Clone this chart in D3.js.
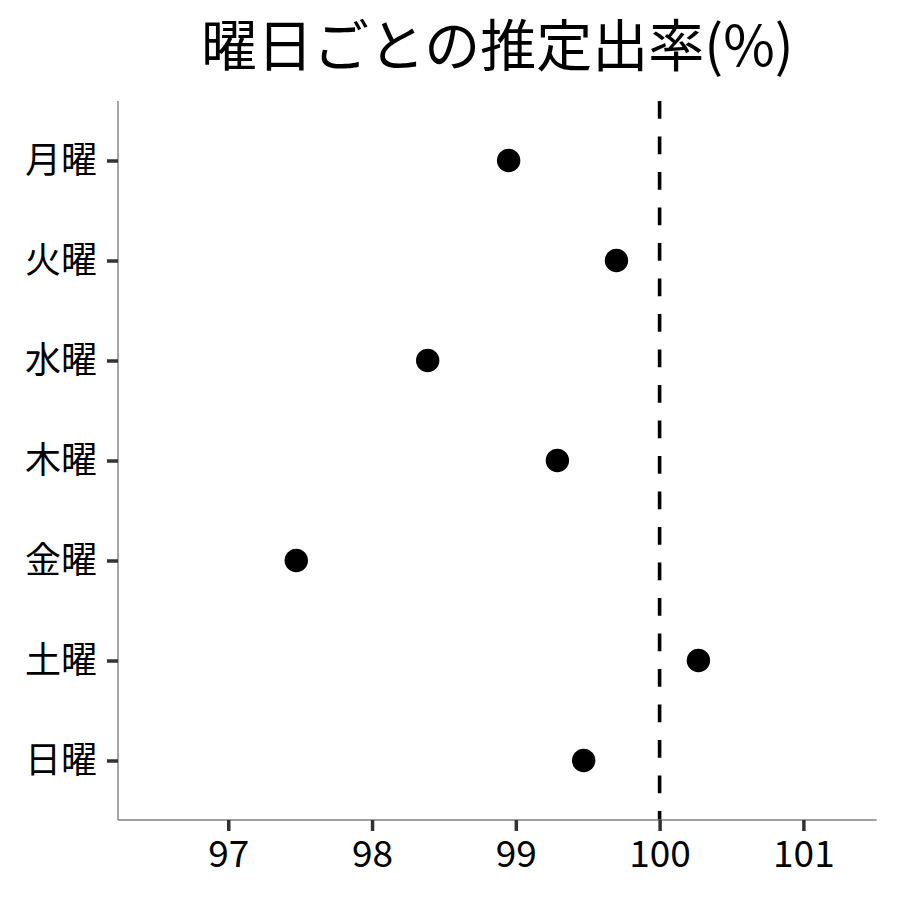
<!DOCTYPE html>
<html><head><meta charset="utf-8">
<script src="https://cdn.jsdelivr.net/npm/d3@7"></script>
<style>
body{margin:0;background:#fff;}
text{font-family:"Noto Sans CJK JP","Noto Sans",sans-serif;}
</style></head>
<body><svg id="c" width="900" height="900"></svg>
<script>
const days = ["月曜","火曜","水曜","木曜","金曜","土曜","日曜"];
const rates = [98.95, 99.70, 98.387, 99.289, 97.473, 100.27, 99.472];
const xTicks = [97, 98, 99, 100, 101];
const refValue = 100;
const title = "曜日ごとの推定出率(%)";

const svg = d3.select("#c");
const L = 118, R = 876.7, T = 101, B = 820;
const x = d3.scaleLinear().domain([96.233, 101.51]).range([L, R]);
const y = d3.scalePoint().domain(days).range([T, B]).padding(0.595);

// title
svg.append("text").attr("x", (L + R) / 2).attr("y", 66)
  .attr("text-anchor", "middle").attr("font-size", 56).attr("fill", "#000").text(title);

// reference line
svg.append("line").attr("x1", x(refValue)).attr("x2", x(refValue))
  .attr("y1", T).attr("y2", B)
  .attr("stroke", "#000").attr("stroke-width", 3.6).attr("stroke-dasharray", "17.7,17.8");

// axes
const xa = svg.append("g").attr("transform", `translate(0,${B})`)
  .call(d3.axisBottom(x).tickValues(xTicks).tickSize(11).tickPadding(10).tickFormat(d3.format("d")));
const ya = svg.append("g").attr("transform", `translate(${L},0)`)
  .call(d3.axisLeft(y).tickSize(11).tickPadding(10));
[xa, ya].forEach(g => {
  g.select(".domain").attr("stroke", "#808080").attr("stroke-width", 1.4);
  g.selectAll(".tick line").attr("stroke", "#333").attr("stroke-width", 3.5);
  g.selectAll(".tick text").attr("fill", "#000");
});
xa.selectAll(".tick text").attr("font-size", 37);
ya.selectAll(".tick text").attr("font-size", 36);
ya.select(".domain").attr("d", `M0,${T}V${B}`);
xa.select(".domain").attr("d", `M${L},0H${R}`);

// points
svg.append("g").selectAll("circle").data(days).join("circle")
  .attr("cx", (d, i) => x(rates[i])).attr("cy", d => y(d))
  .attr("r", 11.7).attr("fill", "#000");
</script></body></html>
